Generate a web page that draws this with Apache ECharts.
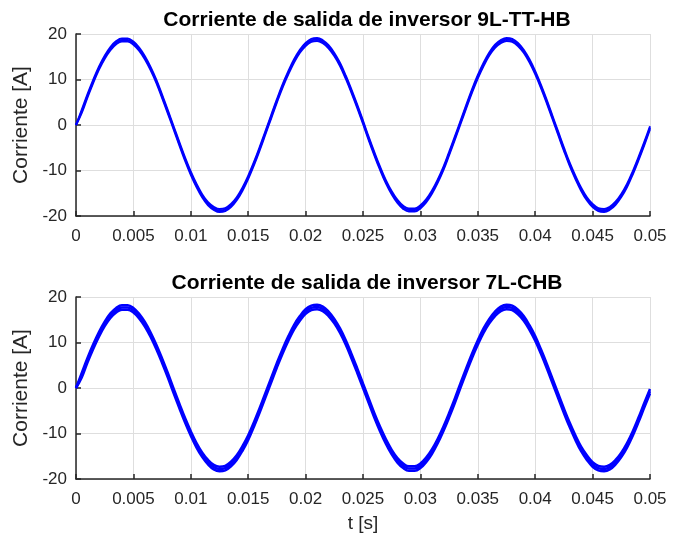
<!DOCTYPE html>
<html><head><meta charset="utf-8">
<script src="https://cdn.jsdelivr.net/npm/echarts@6/dist/echarts.min.js"></script>
<style>html,body{margin:0;padding:0;background:#fff}#c{width:681px;height:535px}</style>
</head><body><div id="c"></div>
<script>
// time samples [s], every 0.5 ms
const time = [0,0.0005,0.001,0.0015,0.002,0.0025,0.003,0.0035,0.004,0.0045,
  0.005,0.0055,0.006,0.0065,0.007,0.0075,0.008,0.0085,0.009,0.0095,
  0.010,0.0105,0.011,0.0115,0.012,0.0125,0.013,0.0135,0.014,0.0145,
  0.015,0.0155,0.016,0.0165,0.017,0.0175,0.018,0.0185,0.019,0.0195,
  0.020,0.0205,0.021,0.0215,0.022,0.0225,0.023,0.0235,0.024,0.0245,
  0.025,0.0255,0.026,0.0265,0.027,0.0275,0.028,0.0285,0.029,0.0295,
  0.030,0.0305,0.031,0.0315,0.032,0.0325,0.033,0.0335,0.034,0.0345,
  0.035,0.0355,0.036,0.0365,0.037,0.0375,0.038,0.0385,0.039,0.0395,
  0.040,0.0405,0.041,0.0415,0.042,0.0425,0.043,0.0435,0.044,0.0445,
  0.045,0.0455,0.046,0.0465,0.047,0.0475,0.048,0.0485,0.049,0.0495,0.050];
// 9L-TT-HB output current, centre of trace [A]
const current9L = [0,3.0,6.4,9.6,12.5,14.9,16.8,18.1,18.7,18.7,
  18.0,16.7,14.8,12.4,9.6,6.3,2.9,-0.6,-4.1,-7.5,
  -10.6,-13.3,-15.6,-17.3,-18.3,-18.8,-18.6,-17.7,-16.2,-14.1,
  -11.5,-8.5,-5.2,-1.7,1.8,5.3,8.6,11.5,14.1,16.2,
  17.7,18.6,18.8,18.3,17.2,15.5,13.3,10.5,7.4,4.1,
  0.6,-3.0,-6.4,-9.6,-12.5,-14.9,-16.8,-18.1,-18.7,-18.7,
  -18.0,-16.7,-14.8,-12.4,-9.6,-6.3,-2.9,0.6,4.1,7.5,
  10.6,13.3,15.6,17.3,18.3,18.8,18.6,17.7,16.2,14.1,
  11.5,8.5,5.2,1.7,-1.8,-5.3,-8.6,-11.5,-14.1,-16.2,
  -17.7,-18.6,-18.8,-18.3,-17.2,-15.5,-13.3,-10.5,-7.4,-4.1,-0.6];
// 7L-CHB output current, centre of trace [A]
const current7L = [0,2.8,6.1,9.1,11.8,14.1,15.9,17.1,17.7,17.7,
  17.1,15.8,14.0,11.7,9.0,6.0,2.8,-0.6,-3.9,-7.1,
  -10.0,-12.6,-14.7,-16.3,-17.4,-17.8,-17.6,-16.7,-15.3,-13.3,
  -10.9,-8.0,-4.9,-1.6,1.7,5.0,8.1,10.9,13.4,15.3,
  16.8,17.6,17.8,17.4,16.3,14.7,12.6,10.0,7.0,3.8,
  0.5,-2.8,-6.1,-9.1,-11.8,-14.1,-15.9,-17.1,-17.7,-17.7,
  -17.1,-15.8,-14.0,-11.7,-9.0,-6.0,-2.8,0.6,3.9,7.1,
  10.0,12.6,14.7,16.3,17.4,17.8,17.6,16.7,15.3,13.3,
  10.9,8.0,4.9,1.6,-1.7,-5.0,-8.1,-10.9,-13.4,-15.3,
  -16.8,-17.6,-17.8,-17.4,-16.3,-14.7,-12.6,-10.0,-7.0,-3.8,-0.7];
// switching-ripple half-band [A]
const ripple9L = 0.33;
const ripple7L = 0.5;
const yTicks = [-20,-10,0,10,20];
const titles = ['Corriente de salida de inversor 9L-TT-HB','Corriente de salida de inversor 7L-CHB'];

const chart = echarts.init(document.getElementById('c'), null, {renderer:'canvas'});
const txt = '#262626';
const font = 'Liberation Sans, Arial, Helvetica';
const grids = [
  {left:76, right:31, top:34, height:182, containLabel:false, outerBoundsMode:'none'},
  {left:76, right:31, top:297, height:182, containLabel:false, outerBoundsMode:'none'}
];
function xAxis(i){
  return {type:'value', gridIndex:i, min:0, max:0.05, interval:0.005,
    name: i===1 ? 't [s]' : '', nameLocation:'middle', nameGap:35,
    nameTextStyle:{color:txt, fontSize:19, fontFamily:font},
    axisLine:{onZero:false, lineStyle:{color:txt, width:1.5}},
    axisTick:{inside:true, length:5, lineStyle:{color:txt, width:1.5}},
    axisLabel:{color:txt, fontSize:17, fontFamily:font, margin:12,
      formatter:v=>String(+v.toFixed(3))},
    splitLine:{show:true, lineStyle:{color:'#dedede', width:1}}};
}
function yAxis(i){
  return {type:'value', gridIndex:i, min:yTicks[0], max:yTicks[yTicks.length-1], interval:10,
    name:'Corriente [A]', nameLocation:'middle', nameGap:37,
    nameTextStyle:{color:txt, fontSize:21, fontFamily:font},
    axisLine:{show:true, onZero:false, lineStyle:{color:txt, width:1.5}},
    axisTick:{show:true, inside:true, length:5, lineStyle:{color:txt, width:1.5}},
    axisLabel:{color:txt, fontSize:17, fontFamily:font, margin:9},
    splitLine:{show:true, lineStyle:{color:'#dedede', width:1}}};
}
function traceSeries(i, vals, r, w){
  const mk = (off)=>({type:'line', xAxisIndex:i, yAxisIndex:i, smooth:0.4, symbol:'none',
    silent:true, animation:false, lineStyle:{color:'#0000ff', width:w},
    data: time.map((t,k)=>[t, vals[k] + (k===0 ? 0 : off)])});
  return [mk(-r), mk(0), mk(r)];
}
chart.setOption({
  animation:false,
  title: titles.map((t,i)=>({text:t, left:362, top: i===0 ? 5 : 268, textAlign:'center',
    textStyle:{fontSize:21, fontWeight:'bold', color:'#000', fontFamily:font}})),
  grid: grids,
  xAxis:[xAxis(0), xAxis(1)],
  yAxis:[yAxis(0), yAxis(1)],
  series:[...traceSeries(0, current9L, ripple9L, 2), ...traceSeries(1, current7L, ripple7L, 2.5)]
});
</script></body></html>
